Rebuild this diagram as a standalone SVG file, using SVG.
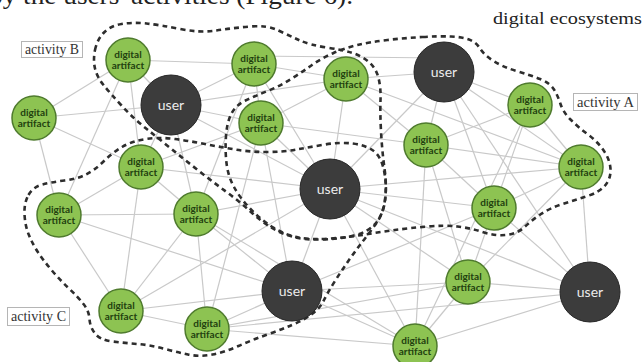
<svg xmlns="http://www.w3.org/2000/svg" width="643" height="362" viewBox="0 0 643 362">
<style>
.edges line{stroke:#c9c9c9;stroke-width:1.2}
.act{fill:none;stroke:#2d2d2d;stroke-width:2.6;stroke-dasharray:5 4}
.art circle{fill:#8dc352;stroke:#4f7b2e;stroke-width:1.5}
.art text{font-family:Lato,"Open Sans",sans-serif;font-size:10px;font-weight:bold;fill:#22400f;text-anchor:middle}
.usr circle{fill:#3c3c3c;stroke:#262626;stroke-width:1}
.usr text{font-family:Lato,"Open Sans",sans-serif;font-size:14px;fill:#ececec;text-anchor:middle}
.lbl rect{fill:#fff;stroke:#b5b5b5;stroke-width:1}
.lbl text{font-family:"Liberation Serif",serif;font-size:14px;fill:#333}
.cap{font-family:"Liberation Serif",serif;fill:#222}
</style>
<rect width="643" height="362" fill="#fff"/>
<text class="cap" x="-11" y="4" font-size="26" textLength="364" lengthAdjust="spacingAndGlyphs">by the users' activities (Figure 6).</text>
<text class="cap" x="493" y="24" font-size="17" textLength="149" lengthAdjust="spacingAndGlyphs" fill="#333">digital ecosystems</text>
<g id="connectors" class="edges">
<line x1="128" y1="60" x2="254" y2="64"/>
<line x1="128" y1="60" x2="34" y2="118"/>
<line x1="128" y1="60" x2="171" y2="105"/>
<line x1="128" y1="60" x2="141" y2="167"/>
<line x1="128" y1="60" x2="59" y2="215"/>
<line x1="34" y1="118" x2="171" y2="105"/>
<line x1="34" y1="118" x2="141" y2="167"/>
<line x1="34" y1="118" x2="59" y2="215"/>
<line x1="171" y1="105" x2="254" y2="64"/>
<line x1="171" y1="105" x2="346" y2="79"/>
<line x1="171" y1="105" x2="261" y2="123"/>
<line x1="171" y1="105" x2="330" y2="189"/>
<line x1="171" y1="105" x2="196" y2="214"/>
<line x1="171" y1="105" x2="141" y2="167"/>
<line x1="254" y1="64" x2="346" y2="79"/>
<line x1="254" y1="56" x2="440" y2="58"/>
<line x1="254" y1="64" x2="261" y2="123"/>
<line x1="254" y1="64" x2="330" y2="189"/>
<line x1="254" y1="64" x2="196" y2="214"/>
<line x1="346" y1="79" x2="261" y2="123"/>
<line x1="346" y1="79" x2="330" y2="189"/>
<line x1="346" y1="79" x2="444" y2="72"/>
<line x1="346" y1="79" x2="426" y2="145"/>
<line x1="346" y1="79" x2="581" y2="167"/>
<line x1="261" y1="123" x2="426" y2="145"/>
<line x1="261" y1="123" x2="330" y2="189"/>
<line x1="261" y1="123" x2="141" y2="167"/>
<line x1="444" y1="72" x2="530" y2="105"/>
<line x1="444" y1="72" x2="426" y2="145"/>
<line x1="444" y1="72" x2="494" y2="208"/>
<line x1="444" y1="72" x2="581" y2="167"/>
<line x1="444" y1="72" x2="330" y2="189"/>
<line x1="444" y1="72" x2="590" y2="292"/>
<line x1="530" y1="105" x2="426" y2="145"/>
<line x1="530" y1="105" x2="581" y2="167"/>
<line x1="530" y1="105" x2="494" y2="208"/>
<line x1="530" y1="105" x2="415" y2="346"/>
<line x1="426" y1="145" x2="581" y2="167"/>
<line x1="426" y1="145" x2="415" y2="346"/>
<line x1="426" y1="145" x2="468" y2="282"/>
<line x1="426" y1="145" x2="494" y2="208"/>
<line x1="581" y1="167" x2="330" y2="189"/>
<line x1="581" y1="167" x2="494" y2="208"/>
<line x1="581" y1="167" x2="590" y2="292"/>
<line x1="581" y1="167" x2="468" y2="282"/>
<line x1="141" y1="167" x2="59" y2="215"/>
<line x1="141" y1="167" x2="196" y2="214"/>
<line x1="141" y1="167" x2="121" y2="311"/>
<line x1="141" y1="167" x2="330" y2="189"/>
<line x1="59" y1="215" x2="196" y2="214"/>
<line x1="59" y1="215" x2="121" y2="311"/>
<line x1="59" y1="215" x2="292" y2="291"/>
<line x1="196" y1="214" x2="292" y2="291"/>
<line x1="196" y1="214" x2="207" y2="329"/>
<line x1="196" y1="214" x2="121" y2="311"/>
<line x1="196" y1="214" x2="330" y2="189"/>
<line x1="196" y1="214" x2="415" y2="346"/>
<line x1="121" y1="311" x2="207" y2="329"/>
<line x1="121" y1="311" x2="292" y2="291"/>
<line x1="121" y1="311" x2="330" y2="189"/>
<line x1="207" y1="329" x2="292" y2="291"/>
<line x1="207" y1="329" x2="415" y2="346"/>
<line x1="207" y1="329" x2="468" y2="282"/>
<line x1="207" y1="329" x2="261" y2="123"/>
<line x1="207" y1="329" x2="590" y2="292"/>
<line x1="330" y1="189" x2="292" y2="291"/>
<line x1="330" y1="189" x2="415" y2="346"/>
<line x1="330" y1="189" x2="590" y2="292"/>
<line x1="330" y1="189" x2="468" y2="282"/>
<line x1="330" y1="189" x2="494" y2="208"/>
<line x1="292" y1="291" x2="415" y2="346"/>
<line x1="292" y1="291" x2="468" y2="282"/>
<line x1="292" y1="291" x2="494" y2="208"/>
<line x1="292" y1="291" x2="261" y2="123"/>
<line x1="494" y1="208" x2="590" y2="292"/>
<line x1="494" y1="208" x2="468" y2="282"/>
<line x1="468" y1="282" x2="590" y2="292"/>
<line x1="468" y1="282" x2="415" y2="346"/>
<line x1="415" y1="346" x2="590" y2="292"/>
</g>
<g id="activities">
<path id="activity-b-outline" class="act" d="M95,50 Q97,40 103.5,33 Q110,26 121.5,24 Q133,22 146.5,23.5 Q160,25 180,29 Q200,33 216.5,30.5 Q233,28 250,26.5 Q267,25 278.5,30.5 Q290,36 300,40.5 Q310,45 326.5,47.5 Q343,50 352.5,53 Q362,56 369,62 Q376,68 378.5,78 Q381,88 380.5,100 Q380,112 381,131 Q382,150 384.5,168.5 Q387,187 385,201 Q383,215 375.5,223.5 Q368,232 354,235.5 Q340,239 322.5,239.5 Q305,240 293.5,237 Q282,234 272,228 Q262,222 251,212 Q240,202 226.5,192 Q213,182 199,171 Q185,160 171.5,149 Q158,138 145.5,128 Q133,118 121.5,105.5 Q110,93 103.5,85 Q97,77 95,68.5 Q93,60 95,50 Z"/>
<path id="activity-a-outline" class="act" d="M422.5,37 Q440,36 451,36.5 Q462,37 469,39.5 Q476,42 480,48.5 Q484,55 493.5,61 Q503,67 516.5,71 Q530,75 540,79 Q550,83 554,89.5 Q558,96 560.5,104 Q563,112 570.5,119.5 Q578,127 588,134.5 Q598,142 604,151 Q610,160 610.5,169 Q611,178 605.5,185 Q600,192 587.5,196 Q575,200 562.5,204 Q550,208 541,214 Q532,220 524.5,227 Q517,234 506,235 Q495,236 482.5,232 Q470,228 457.5,226.5 Q445,225 427.5,226.5 Q410,228 395,230 Q380,232 365,234.5 Q350,237 331,238.5 Q312,240 298.5,237.5 Q285,235 272.5,227 Q260,219 250,208.5 Q240,198 234,187 Q228,176 226.5,163 Q225,150 226,136 Q227,122 231.5,113.5 Q236,105 245.5,100.5 Q255,96 267.5,91 Q280,86 291,79 Q302,72 312,65 Q322,58 333.5,53 Q345,48 357.5,45 Q370,42 387.5,40 Q405,38 422.5,37 Z"/>
<path id="activity-c-outline" class="act" d="M28.5,195 Q33,187 42.5,184.5 Q52,182 64.5,180.5 Q77,179 86,174.5 Q95,170 103.5,161.5 Q112,153 122,147 Q132,141 146,139 Q160,137 175,139 Q190,141 205,144 Q220,147 235,149.5 Q250,152 266.5,152 Q283,152 296.5,149.5 Q310,147 325,144.5 Q340,142 352.5,143.5 Q365,145 373,150.5 Q381,156 384,170.5 Q387,185 385,199.5 Q383,214 376.5,223 Q370,232 363,241 Q356,250 349,260 Q342,270 335,281 Q328,292 324,300 Q320,308 312,314 Q304,320 292,325 Q280,330 266,335 Q252,340 238.5,346 Q225,352 212.5,354.5 Q200,357 188,354.5 Q176,352 163,348.5 Q150,345 137.5,344 Q125,343 112.5,341.5 Q100,340 95,333.5 Q90,327 89.5,319 Q89,311 83.5,304 Q78,297 69,288.5 Q60,280 51.5,270 Q43,260 37.5,251.5 Q32,243 28.5,234 Q25,225 24.5,214 Q24,203 28.5,195 Z"/>
</g>
<g id="label-activity-b" class="lbl"><rect x="21.5" y="41.5" width="61" height="16"/><text x="25" y="54" textLength="54" lengthAdjust="spacingAndGlyphs">activity B</text></g>
<g id="label-activity-a" class="lbl"><rect x="573.5" y="93.5" width="64" height="17"/><text x="577" y="106.5" textLength="57" lengthAdjust="spacingAndGlyphs">activity A</text></g>
<g id="label-activity-c" class="lbl"><rect x="7.5" y="307.5" width="62" height="18"/><text x="11" y="321" textLength="55" lengthAdjust="spacingAndGlyphs">activity C</text></g>
<g id="a1" class="art"><circle cx="128" cy="60" r="22"/><text x="128" y="58">digital</text><text x="128" y="69">artifact</text></g>
<g id="a2" class="art"><circle cx="254" cy="64" r="22"/><text x="254" y="62">digital</text><text x="254" y="73">artifact</text></g>
<g id="a3" class="art"><circle cx="346" cy="79" r="22"/><text x="346" y="77">digital</text><text x="346" y="88">artifact</text></g>
<g id="a4" class="art"><circle cx="34" cy="118" r="22"/><text x="34" y="116">digital</text><text x="34" y="127">artifact</text></g>
<g id="a5" class="art"><circle cx="261" cy="123" r="22"/><text x="261" y="121">digital</text><text x="261" y="132">artifact</text></g>
<g id="a6" class="art"><circle cx="530" cy="105" r="22"/><text x="530" y="103">digital</text><text x="530" y="114">artifact</text></g>
<g id="a7" class="art"><circle cx="426" cy="145" r="22"/><text x="426" y="143">digital</text><text x="426" y="154">artifact</text></g>
<g id="a8" class="art"><circle cx="141" cy="167" r="22"/><text x="141" y="165">digital</text><text x="141" y="176">artifact</text></g>
<g id="a9" class="art"><circle cx="581" cy="167" r="22"/><text x="581" y="165">digital</text><text x="581" y="176">artifact</text></g>
<g id="a10" class="art"><circle cx="59" cy="215" r="22"/><text x="59" y="213">digital</text><text x="59" y="224">artifact</text></g>
<g id="a11" class="art"><circle cx="196" cy="214" r="22"/><text x="196" y="212">digital</text><text x="196" y="223">artifact</text></g>
<g id="a12" class="art"><circle cx="494" cy="208" r="22"/><text x="494" y="206">digital</text><text x="494" y="217">artifact</text></g>
<g id="a13" class="art"><circle cx="468" cy="282" r="22"/><text x="468" y="280">digital</text><text x="468" y="291">artifact</text></g>
<g id="a14" class="art"><circle cx="121" cy="311" r="22"/><text x="121" y="309">digital</text><text x="121" y="320">artifact</text></g>
<g id="a15" class="art"><circle cx="207" cy="329" r="22"/><text x="207" y="327">digital</text><text x="207" y="338">artifact</text></g>
<g id="a16" class="art"><circle cx="415" cy="346" r="22"/><text x="415" y="344">digital</text><text x="415" y="355">artifact</text></g>
<g id="u1" class="usr"><circle cx="171" cy="105" r="30"/><text x="171" y="110">user</text></g>
<g id="u2" class="usr"><circle cx="444" cy="72" r="30"/><text x="444" y="77">user</text></g>
<g id="u3" class="usr"><circle cx="330" cy="189" r="30"/><text x="330" y="194">user</text></g>
<g id="u4" class="usr"><circle cx="292" cy="291" r="30"/><text x="292" y="296">user</text></g>
<g id="u5" class="usr"><circle cx="590" cy="292" r="30"/><text x="590" y="297">user</text></g>
</svg>
